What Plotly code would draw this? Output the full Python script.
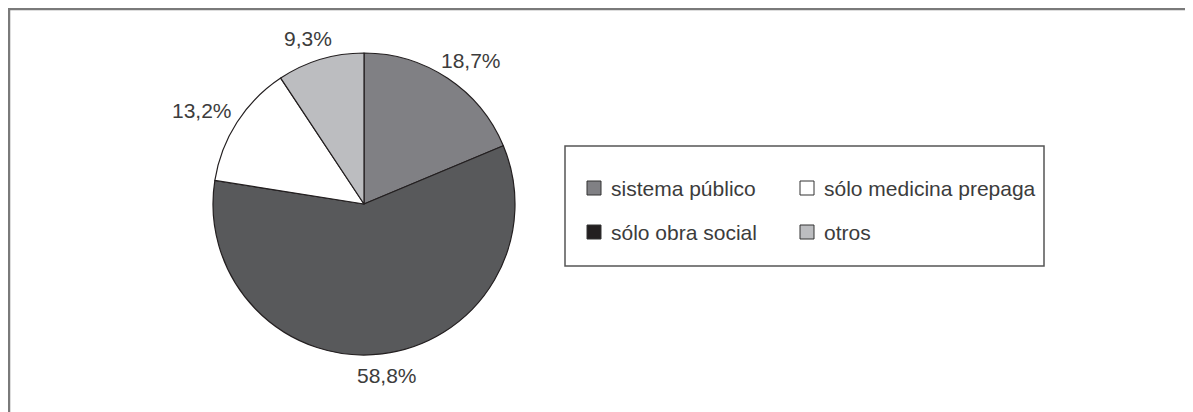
import math
import plotly.graph_objects as go

categories = ["sistema público", "sólo obra social", "sólo medicina prepaga", "otros"]
values = [18.7, 58.8, 13.2, 9.3]
text_labels = ["18,7%", "58,8%", "13,2%", "9,3%"]
slice_colors = ["#808084", "#58595b", "#ffffff", "#bcbdc0"]
legend_colors = ["#808084", "#231f20", "#ffffff", "#bcbdc0"]

W, H = 1193, 412
OFF = 8  # page body margin offset
cx, cy, r = 364 - OFF, 204 - OFF, 151
FONT = "Liberation Sans"
TXT = "#3c3c3c"
FS = 21


def px(x):
    return x / W


def py(y):
    return 1 - y / H


fig = go.Figure()
fig.add_trace(go.Pie(
    labels=categories, values=values,
    textinfo="none",
    marker=dict(colors=slice_colors, line=dict(color="#231f20", width=1.2)),
    sort=False, direction="clockwise", rotation=0,
    showlegend=False, hoverinfo="label+percent",
    domain=dict(x=[px(cx - r), px(cx + r)], y=[py(cy + r), py(cy - r)]),
))

annotations = []
# outside labels placed along each slice's mid-angle
total = sum(values)
cum = 0.0
gap, hw, hh = 13, 29, 9
for v, t in zip(values, text_labels):
    mid = (cum + v / 2) / total * 2 * math.pi
    cum += v
    s, c = math.sin(mid), math.cos(mid)
    lx = cx + (r + gap) * s + hw * s
    ly = cy - (r + gap) * c - hh * c
    annotations.append(dict(xref="paper", yref="paper", x=px(lx), y=py(ly), text=t,
                            showarrow=False, xanchor="center", yanchor="middle",
                            font=dict(family=FONT, size=FS, color=TXT)))

shapes = [
    dict(type="line", xref="paper", yref="paper", x0=0, x1=1, y0=py(1), y1=py(1),
         line=dict(color="#7a7a7a", width=2.5)),
    dict(type="line", xref="paper", yref="paper", x0=px(1), x1=px(1), y0=0, y1=1,
         line=dict(color="#7a7a7a", width=2.5)),
    dict(type="rect", xref="paper", yref="paper", x0=px(565 - OFF), x1=px(1044 - OFF),
         y0=py(266 - OFF), y1=py(146 - OFF), line=dict(color="#555555", width=1.5)),
]
col_x = [587 - OFF, 800 - OFF]
row_y = [188 - OFF, 232 - OFF]
for i, (lab, col) in enumerate(zip(categories, legend_colors)):
    cxl = col_x[0] if i in (0, 1) else col_x[1]
    ryl = row_y[0] if i in (0, 2) else row_y[1]
    shapes.append(dict(type="rect", xref="paper", yref="paper",
                       x0=px(cxl), x1=px(cxl + 14),
                       y0=py(ryl + 7), y1=py(ryl - 7),
                       fillcolor=col, line=dict(color="#333333", width=1)))
    annotations.append(dict(xref="paper", yref="paper", x=px(cxl + 22), y=py(ryl),
                            text=lab, showarrow=False, xanchor="left", yanchor="middle",
                            font=dict(family=FONT, size=FS, color=TXT)))

fig.update_layout(
    width=W, height=H, margin=dict(l=0, r=0, t=0, b=0),
    paper_bgcolor="white", plot_bgcolor="white",
    shapes=shapes, annotations=annotations,
)
fig.write_html("out.html")
